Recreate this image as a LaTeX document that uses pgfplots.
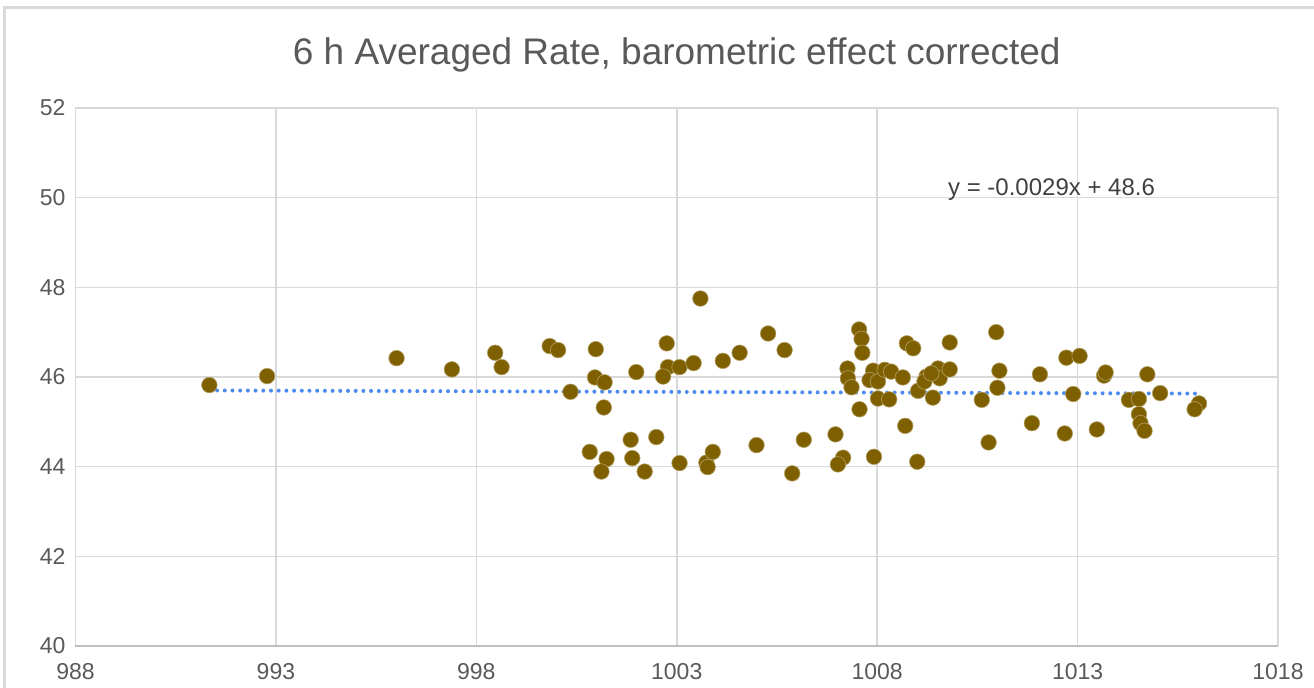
\documentclass[border=0pt]{standalone}
\usepackage{pgfplots}
\pgfplotsset{compat=1.18}
\usepackage{fontspec}
\setmainfont{Liberation Sans}
\definecolor{ptcol}{HTML}{7F6000}
\definecolor{trend}{HTML}{4C8BF0}
\definecolor{gridc}{HTML}{D9D9D9}
\definecolor{txt}{HTML}{595959}
\begin{document}
\begin{tikzpicture}[x=1pt,y=1pt]
\path[use as bounding box] (-37.75,-21) rectangle (619.25,323);
\draw[gridc,line width=1.5pt] (-35.25,-200) -- (-35.25,319) -- (800,319);
\begin{axis}[
  at={(0pt,0pt)}, anchor=south west,
  scale only axis, width=601.25pt, height=269pt,
  xmin=988, xmax=1018, ymin=40, ymax=52,
  xtick={988,993,998,1003,1008,1013,1018},
  ytick={40,42,44,46,48,50,52},
  grid=major,
  major grid style={draw=gridc, line width=0.8pt},
  axis line style={draw=none},
  major tick length=0pt,
  tick label style={font=\fontsize{11.5}{13}\selectfont, text=txt},
  /pgf/number format/assume math mode=true,
  /pgf/number format/set thousands separator={},
  xticklabel style={yshift=-5pt},
  yticklabel style={xshift=-1.5pt},
  clip=false,
]
\draw[draw=gray!50, line width=1.2pt] (axis cs:988,40) -- (axis cs:1018,40);
\addplot[only marks, mark=*, mark size=3.9pt, mark options={fill=ptcol, draw=ptcol!60!white, line width=0.3pt}] coordinates {
(991.34,45.82) (992.78,46.02) (996.01,46.42) (997.39,46.17) (998.47,46.54)
(998.63,46.22) (999.83,46.69) (1000.04,46.60) (1000.35,45.67) (1000.98,46.62)
(1000.96,45.99) (1001.20,45.88) (1001.18,45.32) (1000.83,44.33) (1001.25,44.17)
(1001.12,43.89) (1001.85,44.60) (1001.89,44.19) (1002.20,43.89) (1001.99,46.11)
(1002.49,44.66) (1002.75,46.75) (1002.78,46.22) (1002.66,46.01) (1003.07,46.22)
(1003.07,44.08) (1003.42,46.31) (1003.59,47.75) (1003.74,44.09) (1003.77,43.99)
(1003.90,44.33) (1004.15,46.36) (1004.57,46.54) (1004.99,44.48) (1005.28,46.97)
(1005.69,46.60) (1005.88,43.85) (1006.17,44.60) (1006.96,44.72) (1007.15,44.20)
(1007.02,44.05) (1007.55,47.06) (1007.61,46.85) (1007.63,46.54) (1007.26,46.19)
(1007.27,45.97) (1007.36,45.77) (1007.56,45.28) (1007.90,46.14) (1007.81,45.93)
(1008.02,45.52) (1007.92,44.22) (1008.02,45.90) (1008.19,46.16) (1008.35,46.12)
(1008.64,45.99) (1008.30,45.50) (1008.74,46.75) (1008.90,46.64) (1008.70,44.91)
(1009.00,44.11) (1009.02,45.69) (1009.23,46.01) (1009.18,45.90) (1009.39,45.54)
(1009.52,46.19) (1009.56,45.97) (1009.35,46.08) (1009.81,46.17) (1009.81,46.77)
(1010.61,45.49) (1010.78,44.54) (1010.97,47.00) (1011.05,46.14) (1011.00,45.76)
(1011.86,44.97) (1012.06,46.06) (1012.72,46.43) (1013.05,46.47) (1012.89,45.62)
(1012.68,44.74) (1013.48,44.83) (1013.66,46.03) (1013.70,46.10) (1014.74,46.06)
(1014.28,45.49) (1014.53,45.51) (1015.06,45.64) (1014.53,45.17) (1014.57,44.97)
(1014.67,44.80) (1016.03,45.41) (1015.92,45.28)
};
\addplot[trend, line width=2pt, line cap=round, dash pattern=on 0pt off 3.85pt] coordinates {(991.34,45.70) (1016.03,45.63)};
\node[font=\fontsize{12}{14}\selectfont, text=black!75] at (axis cs:1012.35,50.19) {y = -0.0029x + 48.6};
\node[font=\fontsize{18.5}{22}\selectfont, text=txt] at (rel axis cs:0.5,1) [yshift=26.5pt] {6 h Averaged Rate, barometric effect corrected};
\end{axis}
\end{tikzpicture}
\end{document}
